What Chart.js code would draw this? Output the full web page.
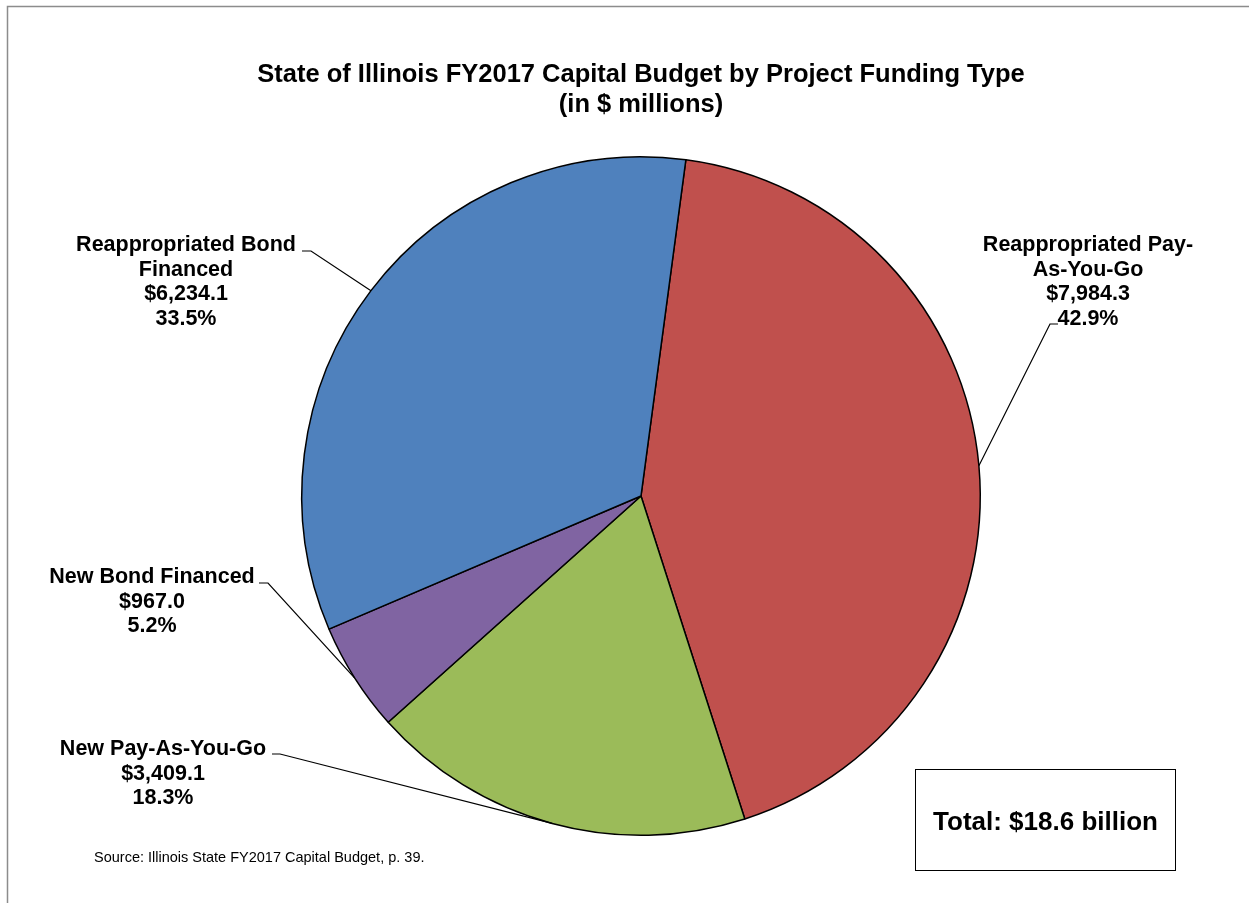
<!DOCTYPE html>
<html>
<head>
<meta charset="utf-8">
<script src="https://cdn.jsdelivr.net/npm/chart.js@4"></script>
<style>
  body { margin: 0; background: #fff; }
  #wrap { width: 1249px; height: 903px; }
</style>
</head>
<body>
<div id="wrap"><canvas id="myChart"></canvas></div>
<script>
// data, in $ millions
const categories = ['Reappropriated Pay-As-You-Go', 'New Pay-As-You-Go', 'New Bond Financed', 'Reappropriated Bond Financed']
const amounts = [7984.3, 3409.1, 967.0, 6234.1]
const labelLines = [['Reappropriated Pay-', 'As-You-Go'], ['New Pay-As-You-Go'], ['New Bond Financed'], ['Reappropriated Bond', 'Financed']]
const sliceColors = ['#C0504D', '#9BBB59', '#8064A2', '#4F81BD']
const titleLines = ['State of Illinois FY2017 Capital Budget by Project Funding Type', '(in $ millions)']
const totalText = 'Total: $18.6 billion'
const sourceText = 'Source: Illinois State FY2017 Capital Budget, p. 39.'

// where each label block sits (center x, first baseline) and where its leader starts
const labelPos = [
  {x: 1088, y: 251, hook: [1058, 324, 1050]},
  {x: 163, y: 755, hook: [272, 754, 280]},
  {x: 152, y: 583, hook: [259, 583, 268]},
  {x: 186, y: 251, hook: [302, 251, 311]}
]

const FONT = '"Liberation Sans", Arial, Helvetica, sans-serif'
const total = amounts.reduce((a, b) => a + b, 0)

const money = v => '$' + v.toLocaleString('en-US', {minimumFractionDigits: 1, maximumFractionDigits: 1})

const decorPlugin = {
  id: 'decor',
  afterDraw(chart) {
    const c = chart.ctx
    c.save()
    // outer frame
    c.strokeStyle = '#8c8c8c'
    c.lineWidth = 1.5
    c.strokeRect(7.5, 6.5, 1400, 1000)

    // title
    c.fillStyle = '#000'
    c.textAlign = 'center'
    c.textBaseline = 'alphabetic'
    c.font = 'bold 25.5px ' + FONT
    c.fillText(titleLines[0], 641, 82)
    c.fillText(titleLines[1], 641, 112)

    // leader lines + labels
    const arcs = chart.getDatasetMeta(0).data
    arcs.forEach((arc, i) => {
      const p = arc.getProps(['x', 'y', 'startAngle', 'endAngle', 'outerRadius'], true)
      const mid = (p.startAngle + p.endAngle) / 2
      const ex = p.x + Math.cos(mid) * p.outerRadius
      const ey = p.y + Math.sin(mid) * p.outerRadius
      const lp = labelPos[i]
      c.strokeStyle = '#000'
      c.lineWidth = 1.2
      c.beginPath()
      c.moveTo(lp.hook[0], lp.hook[1])
      c.lineTo(lp.hook[2], lp.hook[1])
      c.lineTo(ex, ey)
      c.stroke()

      const lines = labelLines[i].concat([money(amounts[i]), (amounts[i] / total * 100).toFixed(1) + '%'])
      c.font = 'bold 21.5px ' + FONT
      c.fillStyle = '#000'
      lines.forEach((t, k) => c.fillText(t, lp.x, lp.y + k * 24.5))
    })

    // total box
    c.fillStyle = '#fff'
    c.fillRect(915.5, 769.5, 260, 101)
    c.strokeStyle = '#000'
    c.lineWidth = 1
    c.strokeRect(915.5, 769.5, 260, 101)
    c.fillStyle = '#000'
    c.font = 'bold 26px ' + FONT
    c.fillText(totalText, 1045.5, 830)

    // source
    c.textAlign = 'left'
    c.font = '14.5px ' + FONT
    c.fillText(sourceText, 94, 862)
    c.restore()
  }
}

const ctx = document.getElementById('myChart')

new Chart(ctx, {
  type: 'pie',
  data: {
    labels: categories,
    datasets: [{
      data: amounts,
      backgroundColor: sliceColors,
      borderColor: '#000',
      borderWidth: 1.5
    }]
  },
  options: {
    responsive: true,
    maintainAspectRatio: false,
    animation: false,
    rotation: 7.6,
    layout: {padding: {top: 156, bottom: 67, left: 301, right: 268}},
    plugins: {
      legend: {display: false},
      tooltip: {enabled: false}
    }
  },
  plugins: [decorPlugin]
})
</script>
</body>
</html>
